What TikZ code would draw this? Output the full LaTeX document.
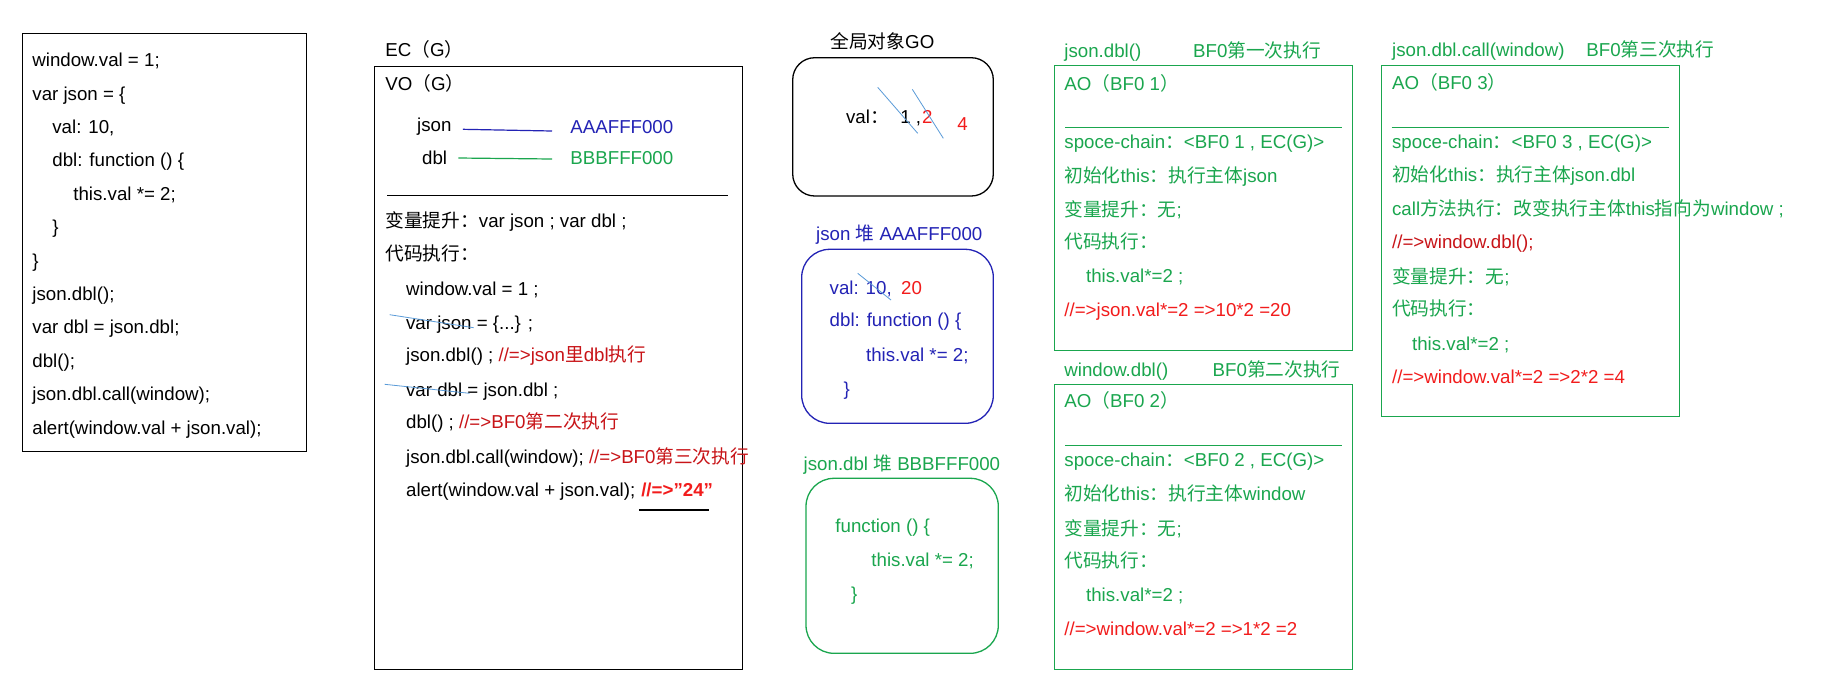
\documentclass[tikz,border=0pt]{standalone}
\usepackage{fontspec}
\setmainfont{Liberation Sans}
\newfontfamily\cjk{Noto Sans CJK SC}
\usetikzlibrary{positioning}
\definecolor{HeapBlue}{HTML}{2323B5}
\definecolor{CallGreen}{HTML}{1AA64E}
\definecolor{CodeRed}{HTML}{F21C1C}
\definecolor{DeepRed}{HTML}{C81418}
\definecolor{StrikeBlue}{HTML}{5A9BD8}
\newcommand{\zh}[1]{{\cjk #1}}
\tikzset{
  codeline/.style={anchor=west, inner sep=0pt, text height=6.7pt, text depth=0pt},
  frame/.style={draw=black, line width=0.5pt},
  aoframe/.style={draw=CallGreen, line width=0.5pt},
  heapframe/.style={line width=0.65pt, rounded corners=14pt},
  strike/.style={draw=StrikeBlue, line width=0.4pt}
}
\begin{document}
\begin{tikzpicture}[x=0.5pt, y=-0.5pt, font=\fontsize{9.35pt}{11pt}\selectfont]
  \fill[white] (0,0) rectangle (1821,698);
  \useasboundingbox (0,0) rectangle (1821,698);

  % source code
  \draw[frame] (22,33) rectangle (306,451);
  \node[codeline] (src1) at (32,60) {window.val = 1;};
  \node[codeline] (src2) at (32,93.4) {var json = \{};
  \node[codeline] (src3) at (52,126.8) {val: 10,};
  \node[codeline] (src4) at (52,160.2) {dbl: function () \{};
  \node[codeline] (src5) at (73,193.6) {this.val *= 2;};
  \node[codeline] (src6) at (52,227) {\}};
  \node[codeline] (src7) at (32,260.4) {\}};
  \node[codeline] (src8) at (32,293.8) {json.dbl();};
  \node[codeline] (src9) at (32,327.2) {var dbl = json.dbl;};
  \node[codeline] (src10) at (32,360.6) {dbl();};
  \node[codeline] (src11) at (32,394) {json.dbl.call(window);};
  \node[codeline] (src12) at (32,427.4) {alert(window.val + json.val);};

  % global execution context
  \node[codeline] (ec) at (385,50) {EC\zh{（}G\zh{）}};
  \draw[frame] (374,66) rectangle (742,669);
  \node[codeline] (vo) at (385,83.3) {VO\zh{（}G\zh{）}};
  \node[codeline] (vjsonkey) at (416.7,124.3) {json};
  \node[codeline] (vdblkey) at (421.7,157.3) {dbl};
  \node[codeline, text=HeapBlue] (addra) at (570,126.7) {AAAFFF000};
  \node[codeline, text=CallGreen] (addrb) at (570,157.3) {BBBFFF000};
  \draw[HeapBlue, line width=0.6pt] ([shift={(11,5)}]vjsonkey.east) -- ([shift={(-18,4.3)}]addra.west);
  \draw[CallGreen, line width=0.6pt] ([shift={(11,0.7)}]vdblkey.east) -- ([shift={(-18,1.7)}]addrb.west);
  \draw[frame] (387,195) -- (728,195);
  \node[codeline] (hoist) at (385,221) {\zh{变量提升：}var json ; var dbl ;};
  \node[codeline] (run) at (385,254) {\zh{代码执行：}};
  \node[codeline] (run1) at (405.7,288.3) {window.val = 1 ;};
  \node[codeline] (run2) at (405.7,322.7) {var json = \{...\} ;};
  \node[codeline] (run3) at (405.7,355) {json.dbl() ; \textcolor{DeepRed}{//=>json\zh{里}dbl\zh{执行}}};
  \node[codeline] (run4) at (405.7,389.3) {var dbl = json.dbl ;};
  \node[codeline] (run5) at (405.7,421.7) {dbl() ; \textcolor{DeepRed}{//=>BF0\zh{第二次执行}}};
  \node[codeline] (run6) at (405.7,456.7) {json.dbl.call(window); \textcolor{DeepRed}{//=>BF0\zh{第三次执行}}};
  \node[codeline] (run7) at (405.7,490) {alert(window.val + json.val);};
  \node[codeline, right=2.6pt of run7, text=CodeRed] (result) {\textbf{//=>”24”}};
  \draw[line width=0.9pt] ([shift={(-2,20)}]result.west) -- ([shift={(-4,20)}]result.east);
  \draw[strike] ([shift={(-16,-8)}]run2.west) -- ([shift={(68,5)}]run2.west);
  \draw[strike] ([shift={(-21,-5)}]run4.west) -- ([shift={(64,4)}]run4.west);

  % global object
  \node[codeline] (gotitle) at (830,41.7) {\zh{全局对象}GO};
  \draw[frame, line width=0.65pt, rounded corners=11pt] (792.7,57.7) rectangle (993.3,196);
  \node[codeline] (goval) at (845.7,116.7) {val\zh{：}};
  \node[codeline] (goone) at (900,116.7) {1 ,};
  \node[codeline, text=CodeRed] (gotwo) at (921.7,117) {2};
  \node[codeline, text=CodeRed] (gofour) at (957,124) {4};
  \draw[strike] ([shift={(-22.3,-29.4)}]goone.west) -- ([shift={(17.7,16.6)}]goone.west);
  \draw[strike] ([shift={(-9.4,-27.7)}]gotwo.west) -- ([shift={(21.6,21.3)}]gotwo.west);

  % heap of json
  \node[codeline, text=HeapBlue] (heapa) at (815.7,234) {json \zh{堆} AAAFFF000};
  \draw[heapframe, draw=HeapBlue] (801.7,249.3) rectangle (993.3,423.3);
  \node[codeline, text=HeapBlue] (ha1) at (829.3,287.3) {val: 10,};
  \node[codeline, text=CodeRed] (ha1new) at (900.7,287.3) {20};
  \node[codeline, text=HeapBlue] (ha2) at (829.3,320) {dbl: function () \{};
  \node[codeline, text=HeapBlue] (ha3) at (865.7,355) {this.val *= 2;};
  \node[codeline, text=HeapBlue] (ha4) at (843.3,388.3) {\}};
  \draw[strike] ([shift={(28.4,-14)}]ha1.west) -- ([shift={(61.7,12.7)}]ha1.west);

  % heap of json.dbl
  \node[codeline, text=CallGreen] (heapb) at (803.3,463.3) {json.dbl \zh{堆} BBBFFF000};
  \draw[heapframe, draw=CallGreen] (806,478.3) rectangle (998.3,653.3);
  \node[codeline, text=CallGreen] (hb1) at (835,526) {function () \{};
  \node[codeline, text=CallGreen] (hb2) at (871,559.3) {this.val *= 2;};
  \node[codeline, text=CallGreen] (hb3) at (850.7,593.3) {\}};

  % first call
  \node[codeline, text=CallGreen] (call1) at (1064,50.7) {json.dbl()};
  \node[codeline, text=CallGreen] (call1n) at (1192.7,50.7) {BF0\zh{第一次执行}};
  \draw[aoframe] (1054.3,65.7) rectangle (1352.7,350);
  \node[codeline, text=CallGreen] (ao1) at (1064,83.3) {AO\zh{（}BF0 1\zh{）}};
  \draw[aoframe] (1065,127.3) -- (1341.7,127.3);
  \node[codeline, text=CallGreen] (ao1a) at (1064,141.7) {spoce-chain\zh{：}<BF0 1 , EC(G)>};
  \node[codeline, text=CallGreen] (ao1b) at (1064,175.3) {\zh{初始化}this\zh{：执行主体}json};
  \node[codeline, text=CallGreen] (ao1c) at (1064,209.5) {\zh{变量提升：无};};
  \node[codeline, text=CallGreen] (ao1d) at (1064,242) {\zh{代码执行：}};
  \node[codeline, text=CallGreen] (ao1e) at (1085.7,276) {this.val*=2 ;};
  \node[codeline, text=CodeRed] (ao1f) at (1064,310) {//=>json.val*=2 =>10*2 =20};

  % second call
  \node[codeline, text=CallGreen] (call2) at (1064,369.3) {window.dbl()};
  \node[codeline, text=CallGreen] (call2n) at (1212.3,369.3) {BF0\zh{第二次执行}};
  \draw[aoframe] (1054.3,384.3) rectangle (1352.7,669.3);
  \node[codeline, text=CallGreen] (ao2) at (1064,401) {AO\zh{（}BF0 2\zh{）}};
  \draw[aoframe] (1065,445.7) -- (1341.7,445.7);
  \node[codeline, text=CallGreen] (ao2a) at (1064,460) {spoce-chain\zh{：}<BF0 2 , EC(G)>};
  \node[codeline, text=CallGreen] (ao2b) at (1064,494) {\zh{初始化}this\zh{：执行主体}window};
  \node[codeline, text=CallGreen] (ao2c) at (1064,528.5) {\zh{变量提升：无};};
  \node[codeline, text=CallGreen] (ao2d) at (1064,561) {\zh{代码执行：}};
  \node[codeline, text=CallGreen] (ao2e) at (1085.7,595) {this.val*=2 ;};
  \node[codeline, text=CodeRed] (ao2f) at (1064,628.3) {//=>window.val*=2 =>1*2 =2};

  % third call
  \node[codeline, text=CallGreen] (call3) at (1391.7,50) {json.dbl.call(window)};
  \node[codeline, text=CallGreen] (call3n) at (1586,50) {BF0\zh{第三次执行}};
  \draw[aoframe] (1381.7,65.7) rectangle (1679.3,416);
  \node[codeline, text=CallGreen] (ao3) at (1391.7,82.7) {AO\zh{（}BF0 3\zh{）}};
  \draw[aoframe] (1391.7,127.3) -- (1669,127.3);
  \node[codeline, text=CallGreen] (ao3a) at (1391.7,141.7) {spoce-chain\zh{：}<BF0 3 , EC(G)>};
  \node[codeline, text=CallGreen] (ao3b) at (1391.7,175) {\zh{初始化}this\zh{：执行主体}json.dbl};
  \node[codeline, text=CallGreen] (ao3c) at (1391.7,209) {call\zh{方法执行：改变执行主体}this\zh{指向为}window ;};
  \node[codeline, text=DeepRed] (ao3d) at (1391.7,241.7) {//=>window.dbl();};
  \node[codeline, text=CallGreen] (ao3e) at (1391.7,276.7) {\zh{变量提升：无};};
  \node[codeline, text=CallGreen] (ao3f) at (1391.7,308.3) {\zh{代码执行：}};
  \node[codeline, text=CallGreen] (ao3g) at (1411.7,343.3) {this.val*=2 ;};
  \node[codeline, text=CodeRed] (ao3h) at (1391.7,376.7) {//=>window.val*=2 =>2*2 =4};
\end{tikzpicture}
\end{document}
